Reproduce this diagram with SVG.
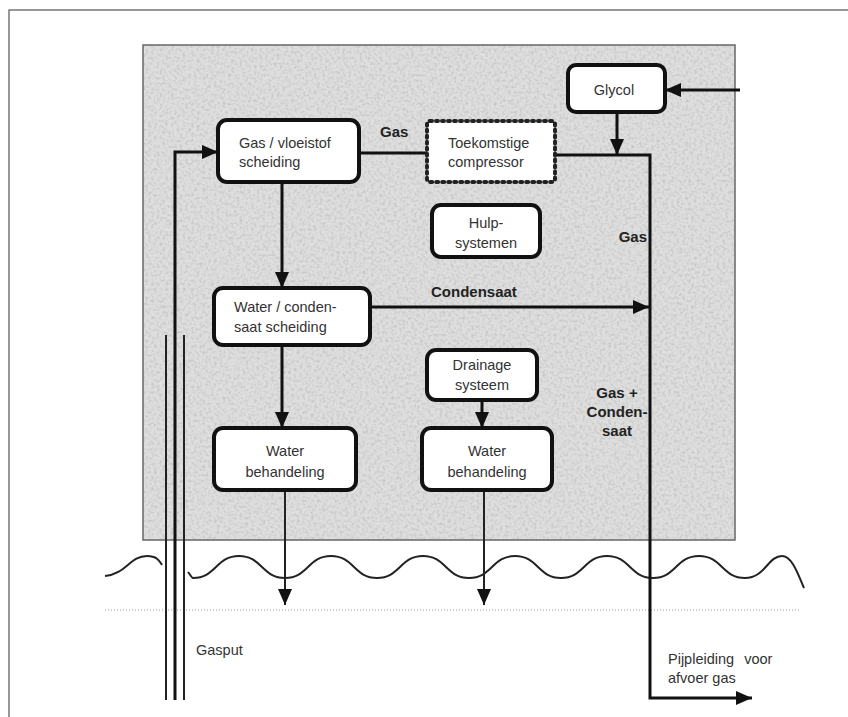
<svg xmlns="http://www.w3.org/2000/svg" width="848" height="717" viewBox="0 0 848 717">
<defs>
<style>
.box{fill:#fff;stroke:#111;stroke-width:4}
.dot{fill:#fff;stroke:#222;stroke-width:4;stroke-dasharray:2 4;stroke-linecap:round}
.ln{fill:none;stroke:#111;stroke-width:3}
.thin{fill:none;stroke:#222;stroke-width:2}
.t{font-family:"Liberation Sans",Arial,sans-serif;font-size:14.5px;fill:#333}
.b{font-family:"Liberation Sans",Arial,sans-serif;font-size:15px;font-weight:bold;fill:#222}
</style>
<marker id="ah" markerUnits="userSpaceOnUse" markerWidth="18" markerHeight="16" refX="16" refY="8" orient="auto">
<path d="M0,1 L16,8 L0,15 Z" fill="#111"/>
</marker>
<filter id="noise" x="0" y="0" width="100%" height="100%">
<feTurbulence type="fractalNoise" baseFrequency="0.35" numOctaves="2" seed="3" result="n"/>
<feColorMatrix in="n" type="matrix" values="0 0 0 0 0.55  0 0 0 0 0.55  0 0 0 0 0.55  0 0 0 -2.2 1.25" result="c"/>
<feComposite in="c" in2="SourceGraphic" operator="in"/>
</filter>
</defs>
<rect width="848" height="717" fill="#fff"/>
<path d="M9,717 L9,10 L848,10" fill="none" stroke="#777" stroke-width="1.5"/>
<g id="platform">
<rect x="143" y="45" width="592" height="495" fill="#dedede" stroke="#666" stroke-width="1.5"/>
<rect x="144" y="46" width="590" height="493" fill="#ccc" filter="url(#noise)"/>
</g>
<g id="sea">
<path class="thin" stroke-width="2.5" d="M105,576 C126,574 130,556 147,556 C158,556 160,562 162,565 M188,572 C191,576 192,578 193,578 C216,578 216,556 239,556 S262,578 285,578 S308,556 331,556 S354,578 377,578 S400,556 423,556 S446,578 469,578 S492,556 515,556 S538,578 561,578 S584,556 607,556 S630,578 653,578 S676,556 699,556 S722,578 745,578 C765,578 768,556 782,556 C792,556 798,574 804,588"/>
<path d="M105,610 L800,610" stroke="#999" stroke-width="1.2" stroke-dasharray="1 2"/>
</g>
<g id="well">
<path class="thin" d="M166,335 L166,700 M184,335 L184,700"/>
</g>
<g id="connectors">
<path class="ln" d="M175,700 L175,152 L218,152" marker-end="url(#ah)"/>
<path class="ln" d="M359,153 L427,153"/>
<path class="ln" d="M555,155 L650,155 L650,698 L752,698" marker-end="url(#ah)"/>
<path class="ln" d="M740,90 L665,90" marker-end="url(#ah)"/>
<path class="ln" d="M617,112 L617,155" marker-end="url(#ah)"/>
<path class="ln" d="M282,182 L282,288" marker-end="url(#ah)"/>
<path class="ln" d="M370,307 L649,307" marker-end="url(#ah)"/>
<path class="ln" d="M282,345 L282,428" marker-end="url(#ah)"/>
<path class="ln" d="M482,400 L482,428" marker-end="url(#ah)"/>
<path class="thin" d="M285,490 L285,605" marker-end="url(#ah)"/>
<path class="thin" d="M484,490 L484,605" marker-end="url(#ah)"/>
</g>
<g id="labels">
<text class="b" x="380" y="137">Gas</text>
<text class="b" x="431" y="297">Condensaat</text>
<text class="b" x="647" y="242" text-anchor="end">Gas</text>
<text class="b" x="617" y="398" text-anchor="middle" fill="#444">Gas +</text>
<text class="b" x="617" y="417" text-anchor="middle" fill="#444">Conden-</text>
<text class="b" x="617" y="436" text-anchor="middle" fill="#444">saat</text>
<text class="t" x="196" y="655" font-size="15px">Gasput</text>
<text class="t" x="668" y="664" font-size="16px" word-spacing="6">Pijpleiding voor</text>
<text class="t" x="668" y="683" font-size="16px">afvoer gas</text>
</g>
<g id="glycol">
<rect class="box" x="568" y="65" width="97" height="47" rx="8"/>
<text class="t" x="614" y="95" text-anchor="middle">Glycol</text>
</g>
<g id="gas-vloeistof">
<rect class="box" x="218" y="120" width="141" height="62" rx="9"/>
<text class="t" x="239" y="148">Gas / vloeistof</text>
<text class="t" x="239" y="167">scheiding</text>
</g>
<g id="compressor">
<rect class="dot" x="427" y="121" width="128" height="61" rx="3"/>
<text class="t" x="448" y="148">Toekomstige</text>
<text class="t" x="448" y="167">compressor</text>
</g>
<g id="hulpsystemen">
<rect class="box" x="432" y="205" width="108" height="52" rx="9"/>
<text class="t" x="486" y="228" text-anchor="middle">Hulp-</text>
<text class="t" x="486" y="248" text-anchor="middle">systemen</text>
</g>
<g id="water-condensaat">
<rect class="box" x="214" y="288" width="156" height="57" rx="9"/>
<text class="t" x="234" y="312">Water / conden-</text>
<text class="t" x="234" y="332">saat scheiding</text>
</g>
<g id="drainage">
<rect class="box" x="427" y="350" width="110" height="50" rx="9"/>
<text class="t" x="482" y="370" text-anchor="middle">Drainage</text>
<text class="t" x="482" y="390" text-anchor="middle">systeem</text>
</g>
<g id="water-behandeling-1">
<rect class="box" x="214" y="428" width="142" height="62" rx="9"/>
<text class="t" x="285" y="456" text-anchor="middle">Water</text>
<text class="t" x="285" y="477" text-anchor="middle">behandeling</text>
</g>
<g id="water-behandeling-2">
<rect class="box" x="422" y="428" width="130" height="62" rx="9"/>
<text class="t" x="487" y="456" text-anchor="middle">Water</text>
<text class="t" x="487" y="477" text-anchor="middle">behandeling</text>
</g>
</svg>
